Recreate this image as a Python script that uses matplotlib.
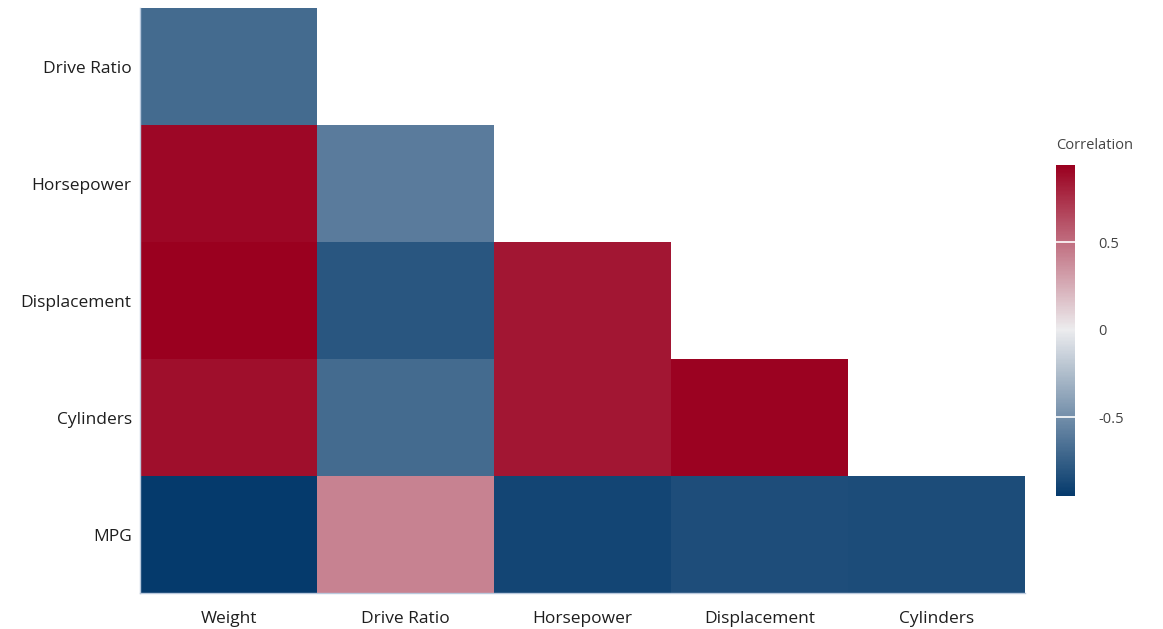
import numpy as np
import matplotlib
matplotlib.use("Agg")
import matplotlib.pyplot as plt
from matplotlib.colors import LinearSegmentedColormap

plt.rcParams['font.family'] = ['Open Sans', 'DejaVu Sans']

row_labels = ["Drive Ratio", "Horsepower", "Displacement", "Cylinders", "MPG"]
col_labels = ["Weight", "Drive Ratio", "Horsepower", "Displacement", "Cylinders"]

# lower-triangular correlation values (NaN = hidden)
nan = np.nan
r_drive_ratio = [-0.69, nan, nan, nan, nan]
r_horsepower = [0.91, -0.60, nan, nan, nan]
r_displacement = [0.94, -0.80, 0.85, nan, nan]
r_cylinders = [0.88, -0.69, 0.85, 0.93, nan]
r_mpg = [-0.95, 0.42, -0.89, -0.84, -0.85]

vmin, vmax = -0.95, 0.94

corr = np.array([r_drive_ratio, r_horsepower, r_displacement, r_cylinders, r_mpg])

cmap = LinearSegmentedColormap.from_list(
    "corr", [(0.0, "#053a6c"), (vmin / (vmin - vmax), "#ececee"), (1.0, "#9a001f")])

fig = plt.figure(figsize=(11.63, 6.29), dpi=100)
ax = fig.add_axes([0.1204, 0.0572, 0.7609, 0.930])

mesh = ax.pcolormesh(np.ma.masked_invalid(corr), cmap=cmap, vmin=vmin, vmax=vmax)
ax.set_xlim(0, len(col_labels))
ax.set_ylim(len(row_labels), 0)
ax.set_xticks(np.arange(len(col_labels)) + 0.5)
ax.set_xticklabels(col_labels)
ax.set_yticks(np.arange(len(row_labels)) + 0.5)
ax.set_yticklabels(row_labels)
ax.tick_params(length=0, labelsize=12.5, labelcolor="#1e1e1e")
ax.tick_params(axis='x', pad=13)
ax.tick_params(axis='y', pad=6)
for lbl in ax.get_yticklabels():
    lbl.set_va("center_baseline")
for s in ["top", "right"]:
    ax.spines[s].set_visible(False)
for s in ["left", "bottom"]:
    ax.spines[s].set_color("#b9c8dc")
    ax.spines[s].set_linewidth(1.0)

cax = fig.add_axes([0.908, 0.2114, 0.0163, 0.526])
cb = fig.colorbar(mesh, cax=cax)
cb.outline.set_visible(False)
ticks = [-0.5, 0, 0.5]
cb.set_ticks(ticks)
cb.set_ticklabels(["-0.5", "0", "0.5"])
cax.tick_params(length=0, pad=17, labelsize=10.5, labelcolor="#444444")
for t in [-0.5, 0.5]:
    cax.axhline(t, color="white", linewidth=1.2)
fig.text(0.9085, 0.768, "Correlation", fontsize=10.5, color="#444444", ha="left", va="center")

fig.savefig("out.png", dpi=100, facecolor="white")
